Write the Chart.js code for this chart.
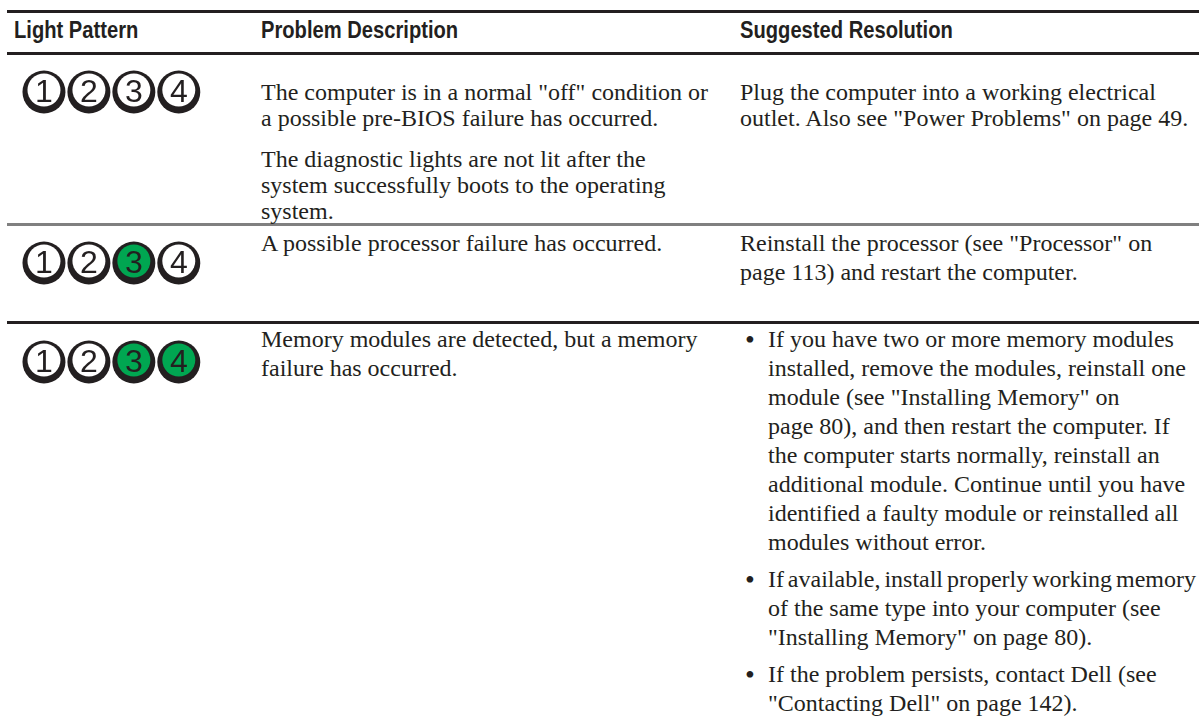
<!DOCTYPE html>
<html>
<head>
<meta charset="utf-8">
<title>Diagnostic Lights</title>
<script src="https://cdn.jsdelivr.net/npm/chart.js@4.4.0/dist/chart.umd.min.js"></script>
<style>
    html, body { margin: 0; padding: 0; background: #ffffff; }
    #page { position: relative; width: 1199px; height: 722px; overflow: hidden; background: #ffffff; color: #231f20; }
    .rule { position: absolute; left: 7px; right: 0; height: 3px; background: #231f20; }
    .rule.grey { background: #808080; }
    .head {
        position: absolute; top: 16px; white-space: nowrap; transform-origin: left center;
        transform: scaleX(0.84);
        font-family: "Liberation Sans", Arial, sans-serif;
        font-weight: bold; font-size: 24px; line-height: 27px;
    }
    .cell {
        position: absolute; white-space: nowrap;
        font-family: "Liberation Serif", "Times New Roman", serif; font-size: 24px; line-height: 29px;
    }
    .cell.tight { line-height: 26px; }
    .cell p { margin: 0; }
    .cell p + p { margin-top: 8px; }
    .cell.tight p + p { margin-top: 15px; }
    .cell p.bullet { position: relative; padding-left: 28px; }
    .cell p.bullet::before { content: "\2022"; position: absolute; left: 5px; top: 0; font-size: 28px; }
    canvas.lights { position: absolute; left: 0; }
</style>
</head>
<body>
<div id="page"></div>
<script>
// Light pattern data
const lightLabels = ['1', '2', '3', '4'];
const lightSlots = [1, 2, 3, 4];
const rowPatterns = [
    [0, 0, 0, 0],
    [0, 0, 1, 0],
    [0, 0, 1, 1]
];

// Table text
const headers = ['Light Pattern', 'Problem Description', 'Suggested Resolution'];

const problemText = [
    [
        ['The computer is in a normal "off" condition or', 'a possible pre-BIOS failure has occurred.'],
        ['The diagnostic lights are not lit after the', 'system successfully boots to the operating', 'system.']
    ],
    [
        ['A possible processor failure has occurred.']
    ],
    [
        ['Memory modules are detected, but a memory', 'failure has occurred.']
    ]
];

const resolutionText = [
    [
        ['Plug the computer into a working electrical', 'outlet. Also see "Power Problems" on page 49.']
    ],
    [
        ['Reinstall the processor (see "Processor" on', 'page 113) and restart the computer.']
    ],
    [
        ['If you have two or more memory modules', 'installed, remove the modules, reinstall one',
         'module (see "Installing Memory" on', 'page 80), and then restart the computer. If',
         'the computer starts normally, reinstall an', 'additional module. Continue until you have',
         'identified a faulty module or reinstalled all', 'modules without error.'],
        ['If available, install properly working memory', 'of the same type into your computer (see',
         '"Installing Memory" on page 80).'],
        ['If the problem persists, contact Dell (see', '"Contacting Dell" on page 142).']
    ]
];
const resolutionBulleted = [false, false, true];

// Layout
const columnLeft = [14, 261, 740];
const ruleTops = [10, 52, 223, 321];
const greyRules = [false, false, true, false];
const rowTextTop = [79, 229, 325];
const rowTight = [true, false, false];
const rowLightCenter = [91.5, 262.5, 361.5];
const RIGHT_LIMIT = 1196;
const LIT = '#00a651';
const RING = '#231f20';
const FACE_LIFT = 2;

const page = document.getElementById('page');

// Rules
ruleTops.forEach((top, i) => {
    const r = document.createElement('div');
    r.className = 'rule' + (greyRules[i] ? ' grey' : '');
    r.style.top = top + 'px';
    page.appendChild(r);
});

// Header
headers.forEach((text, i) => {
    const h = document.createElement('div');
    h.className = 'head';
    h.style.left = columnLeft[i] + 'px';
    h.textContent = text;
    page.appendChild(h);
});

const lineSpans = [];

function makeCell(paragraphs, left, top, bulleted, tight) {
    const cell = document.createElement('div');
    cell.className = 'cell' + (tight ? ' tight' : '');
    cell.style.left = left + 'px';
    cell.style.top = top + 'px';
    paragraphs.forEach(lines => {
        const p = document.createElement('p');
        if (bulleted) p.className = 'bullet';
        lines.forEach((line, j) => {
            if (j > 0) p.appendChild(document.createElement('br'));
            const span = document.createElement('span');
            span.textContent = line;
            p.appendChild(span);
            lineSpans.push(span);
        });
        cell.appendChild(p);
    });
    page.appendChild(cell);
}

problemText.forEach((paras, r) => makeCell(paras, columnLeft[1], rowTextTop[r], false, rowTight[r]));
resolutionText.forEach((paras, r) => makeCell(paras, columnLeft[2], rowTextTop[r], resolutionBulleted[r], rowTight[r]));

// Squeeze word spacing on any line that would run past the page edge
lineSpans.forEach(span => {
    const over = span.getBoundingClientRect().right - RIGHT_LIMIT;
    const gaps = (span.textContent.match(/ /g) || []).length;
    if (over > 0 && gaps) span.style.wordSpacing = (-over / gaps).toFixed(2) + 'px';
});

// Faces are drawn lifted a little so the ring looks thicker at the bottom, then the numbers go on top
const lightFaces = {
    id: 'lightFaces',
    beforeDatasetDraw(chart, args) {
        if (args.index === 0) {
            chart.ctx.save();
            chart.ctx.translate(0, -FACE_LIFT);
        }
    },
    afterDatasetDraw(chart, args) {
        if (args.index === 0) chart.ctx.restore();
    },
    afterDatasetsDraw(chart) {
        const ctx = chart.ctx;
        const meta = chart.getDatasetMeta(0);
        ctx.save();
        ctx.font = '32px "Liberation Sans", Arial, sans-serif';
        ctx.fillStyle = RING;
        ctx.textAlign = 'center';
        ctx.textBaseline = 'alphabetic';
        meta.data.forEach((pt, i) => {
            ctx.fillText(lightLabels[i], pt.x, pt.y - FACE_LIFT + 12);
        });
        ctx.restore();
    }
};

function drawLights(pattern, center) {
    const canvas = document.createElement('canvas');
    canvas.className = 'lights';
    canvas.width = 240;
    canvas.height = 60;
    canvas.style.top = (center - 30) + 'px';
    page.appendChild(canvas);

    const points = lightSlots.map(n => ({ x: n, y: 0 }));

    // dataset 0 is drawn last (on top) by Chart.js
    return new Chart(canvas, {
        type: 'scatter',
        data: {
            datasets: [
                {
                    label: 'face',
                    data: points,
                    pointRadius: 16.5,
                    pointHoverRadius: 16.5,
                    backgroundColor: pattern.map(on => on ? LIT : '#ffffff'),
                    borderWidth: 0,
                    clip: false
                },
                {
                    label: 'ring',
                    data: points,
                    pointRadius: 21.5,
                    pointHoverRadius: 21.5,
                    backgroundColor: RING,
                    borderWidth: 0,
                    clip: false
                }
            ]
        },
        options: {
            responsive: false,
            animation: false,
            devicePixelRatio: 1,
            events: [],
            layout: { padding: { left: 11.25, right: 38.75, top: 0, bottom: 0 } },
            scales: {
                x: { type: 'linear', display: false, min: 0.5, max: 4.5 },
                y: { type: 'linear', display: false, min: -1, max: 1 }
            },
            plugins: {
                legend: { display: false },
                tooltip: { enabled: false }
            }
        },
        plugins: [lightFaces]
    });
}

rowPatterns.forEach((pattern, r) => drawLights(pattern, rowLightCenter[r]));
</script>
</body>
</html>
